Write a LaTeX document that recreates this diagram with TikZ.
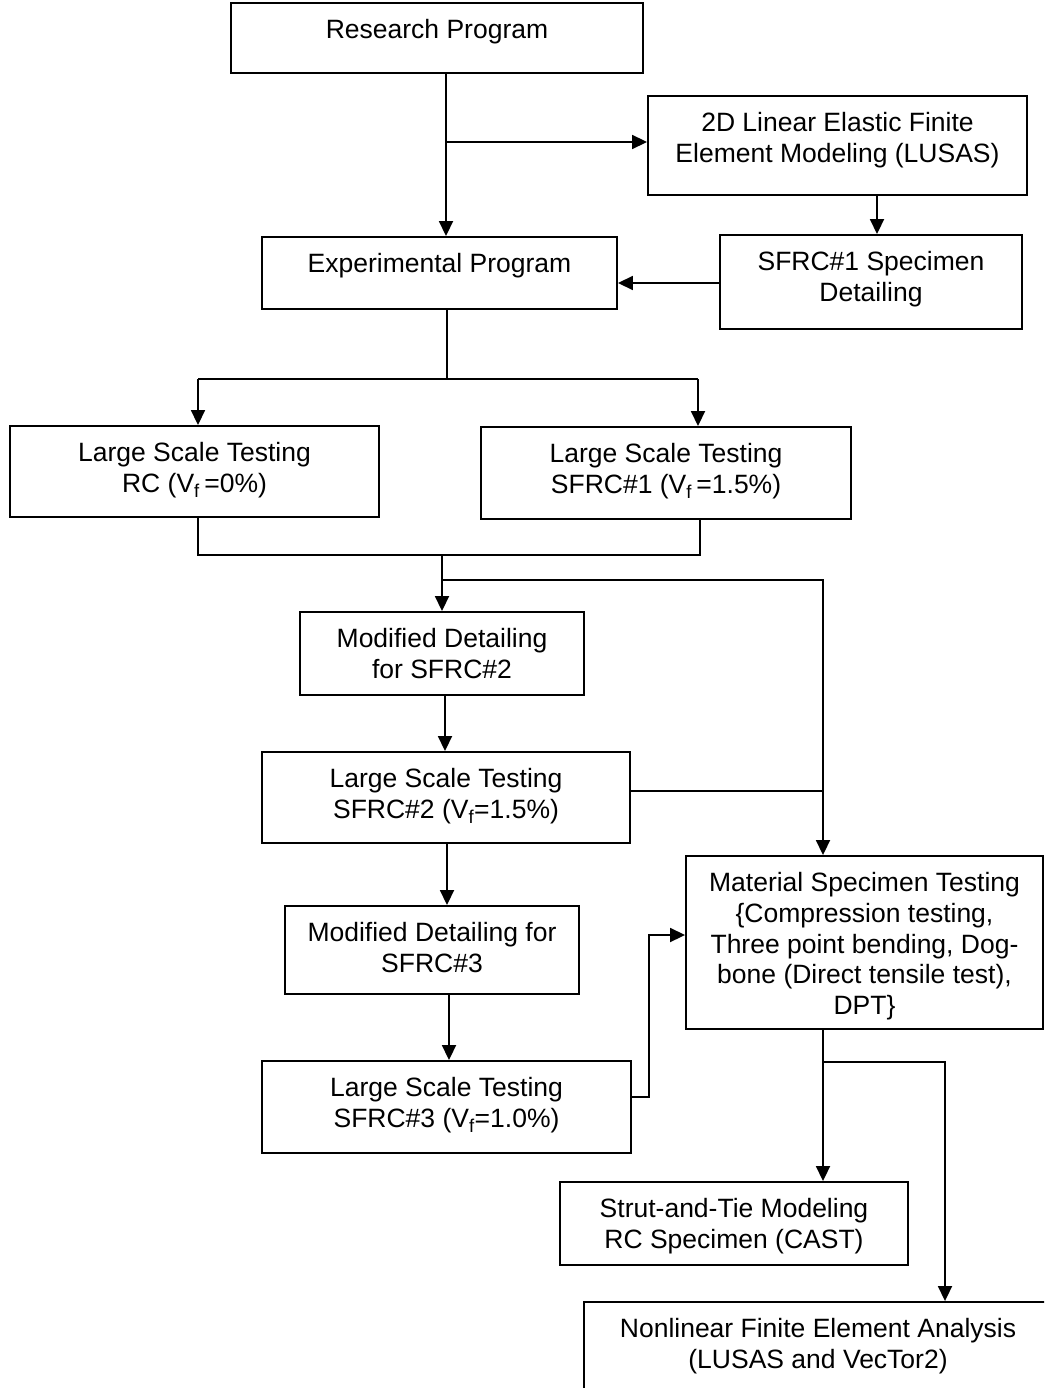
\documentclass[tikz,border=0pt]{standalone}
\usepackage{fontspec}
\setmainfont{Liberation Sans}
\usetikzlibrary{arrows.meta}
\tikzset{
  box/.style={draw, line width=1.9pt, rectangle, inner sep=0pt},
  txt/.style={anchor=north, align=center, inner sep=0pt, font=\fontsize{26.5}{30.7}\selectfont},
  con/.style={line width=1.8pt},
  arr/.style={con, -{Triangle[length=15pt,width=14pt]}}
}
\newcommand\bx[6]{%
  \node[box, minimum width={#4-#2}, minimum height={#5-#3}] (#1) at ({(#2+#4)/2},{(#3+#5)/2}) {};
  \node[txt] (#1t) at ([yshift=-15.1pt]#1.north) {\strut #6};
}
\begin{document}
\begin{tikzpicture}[x=1pt,y=-1pt]
\useasboundingbox (0,0) rectangle (1044,1388);
\clip (0,0) rectangle (1044,1388);
\fill[white] (0,0) rectangle (1044,1388);

\bx{rp}{231}{3}{643}{73}{Research Program}
\bx{fe}{648}{96}{1027}{195}{2D Linear Elastic Finite\\Element Modeling (LUSAS)}
\bx{exp}{262}{237}{617}{309}{Experimental Program}
\bx{det}{720}{235}{1022}{329}{SFRC\#1 Specimen\\Detailing}
\bx{rc}{10}{426}{379}{517}{Large Scale Testing\\RC (V\textsubscript{f}\,=0\%)}
\bx{sa}{481}{427}{851}{519}{Large Scale Testing\\SFRC\#1 (V\textsubscript{f}\,=1.5\%)}
\bx{mdb}{300}{612}{584}{695}{Modified Detailing\\for SFRC\#2}
\bx{sb}{262}{752}{630}{843}{Large Scale Testing\\SFRC\#2 (V\textsubscript{f}=1.5\%)}
\bx{mat}{686}{856}{1043}{1029}{Material Specimen Testing\\\{Compression testing,\\Three point bending, Dog-\\bone (Direct tensile test),\\DPT\}}
\bx{mdc}{285}{906}{579}{994}{Modified Detailing for\\SFRC\#3}
\bx{sc}{262}{1061}{631}{1153}{Large Scale Testing\\SFRC\#3 (V\textsubscript{f}=1.0\%)}
\bx{stm}{560}{1182}{908}{1265}{Strut-and-Tie Modeling\\RC Specimen (CAST)}
\bx{nl}{584}{1302}{1052}{1410}{Nonlinear Finite Element Analysis\\(LUSAS and VecTor2)}

% connectors
\coordinate (j1) at (446,142);
\draw[arr] (rp.south -| j1) -- (exp.north -| j1);
\draw[arr] (j1) -- (j1 -| fe.west);
\coordinate (j2) at (877,215);
\draw[arr] (fe.south -| j2) -- (det.north -| j2);
\coordinate (j3) at (700,283);
\draw[arr] (det.west |- j3) -- (exp.east |- j3);
\coordinate (j4) at (447,379);
\coordinate (j4l) at (198,379);
\coordinate (j4r) at (698,379);
\draw[con] (exp.south -| j4) -- (j4);
\draw[con] (j4l) -- (j4r);
\draw[arr] (j4l) -- (rc.north -| j4l);
\draw[arr] (j4r) -- (sa.north -| j4r);
\coordinate (j5l) at (198,555);
\coordinate (j5r) at (700,555);
\draw[con] (rc.south -| j5l) -- (j5l) -- (j5r) -- (sa.south -| j5r);
\coordinate (j6) at (442,555);
\coordinate (j7) at (442,580);
\coordinate (j8) at (823,580);
\draw[arr] (j6) -- (mdb.north -| j6);
\draw[arr] (j7) -- (j8) -- (mat.north -| j8);
\coordinate (j9) at (823,791);
\draw[con] (sb.east |- j9) -- (j9);
\coordinate (j10) at (445,700);
\draw[arr] (mdb.south -| j10) -- (sb.north -| j10);
\coordinate (j11) at (447,870);
\draw[arr] (sb.south -| j11) -- (mdc.north -| j11);
\coordinate (j12) at (449,1030);
\draw[arr] (mdc.south -| j12) -- (sc.north -| j12);
\coordinate (j13) at (649,1097);
\coordinate (j14) at (649,935);
\draw[arr] (sc.east |- j13) -- (j13) -- (j14) -- (mat.west |- j14);
\coordinate (j15) at (823,1062);
\coordinate (j16) at (945,1062);
\draw[arr] (mat.south -| j15) -- (stm.north -| j15);
\draw[arr] (j15) -- (j16) -- (nl.north -| j16);
\end{tikzpicture}
\end{document}
